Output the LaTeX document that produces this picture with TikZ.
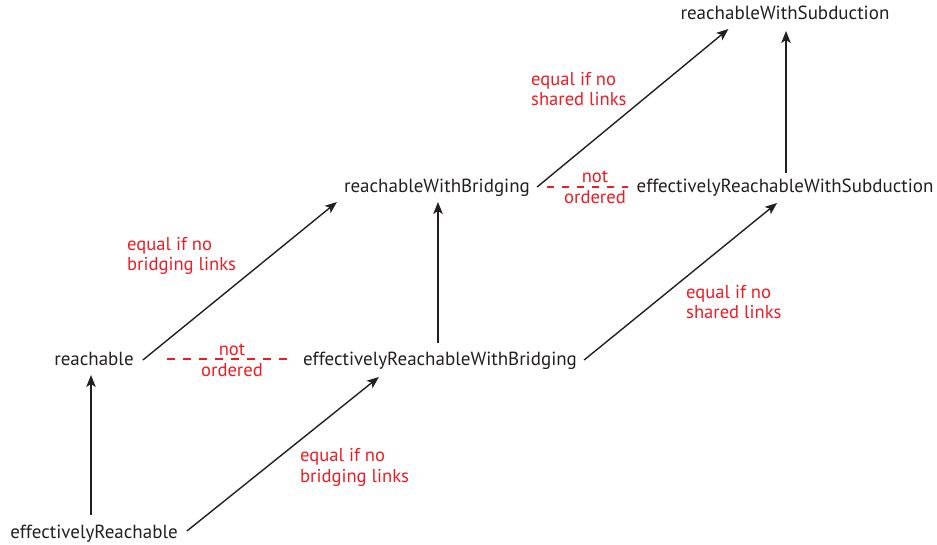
\documentclass[tikz,border=0pt]{standalone}
\usepackage{fontspec}
\setmainfont{PT Sans}
\usetikzlibrary{arrows.meta}
\definecolor{ink}{HTML}{231F20}
\definecolor{note}{HTML}{ED1C24}
\begin{document}
\begin{tikzpicture}[x=1pt,y=-1pt,
  term/.style={anchor=base, inner sep=0pt, text=ink, font=\fontsize{19}{22}\selectfont},
  remark/.style={anchor=base west, inner sep=0pt, text=note, align=left, font=\fontsize{18.6}{20.5}\selectfont},
  midnote/.style={anchor=base, inner sep=0pt, text=note, align=center, font=\fontsize{18.6}{21}\selectfont},
  arr/.style={draw=ink, line width=1.4pt, -{Stealth[length=12pt,width=9.5pt,inset=3pt]}},
  unordered/.style={draw=note, line width=1.4pt, dash pattern=on 8pt off 8pt}]
\useasboundingbox (0,0) rectangle (937,545);

% the six relations
\node[term] (er)   at (94,538)  {effectivelyReachable};
\node[term] (r)    at (94,365)  {reachable};
\node[term] (erwb) at (440,365) {effectivelyReachableWithBridging};
\node[term] (rwb)  at (437,193) {reachableWithBridging};
\node[term] (erws) at (785,193) {effectivelyReachableWithSubduction};
\node[term] (rws)  at (785,20)  {reachableWithSubduction};

% inclusions
\draw[arr] ([shift={(-3,-23)}]er.base) -- ([shift={(-3,10)}]r.base);
\draw[arr] ([shift={(9,-7)}]er.base east) -- ([shift={(76,12)}]erwb.base west);
\draw[arr] ([shift={(9,-5)}]r.base east) -- ([shift={(-7,9)}]rwb.base west);
\draw[arr] ([shift={(-2,-22)}]erwb.base) -- ([shift={(1,9)}]rwb.base);
\draw[arr] ([shift={(7,-5)}]erwb.base east) -- ([shift={(-8,10)}]erws.base);
\draw[arr] ([shift={(7,-6)}]rwb.base east) -- ([shift={(48,9)}]rws.base west);
\draw[arr] ([shift={(1,-20)}]erws.base) -- ([shift={(1,11)}]rws.base);

% incomparable pairs
\draw[unordered] ([shift={(33,-6)}]r.base east) -- ([shift={(-11,-6)}]erwb.base west);
\draw[unordered, dash pattern=on 7pt off 8pt] ([shift={(17,-6)}]rwb.base east) -- ([shift={(-8,-6)}]erws.base west);
\node[midnote] (no1) at (232,376) {not\\ordered};
\node[midnote] (no2) at (595,204) {not\\ordered};

% conditions for equality
\node[remark] (c1) at (127,271) {equal if no\\bridging links};
\node[remark] (c2) at (300,482) {equal if no\\bridging links};
\node[remark] (c3) at (686,319) {equal if no\\shared links};
\node[remark] (c4) at (531,106) {equal if no\\shared links};
\end{tikzpicture}
\end{document}
